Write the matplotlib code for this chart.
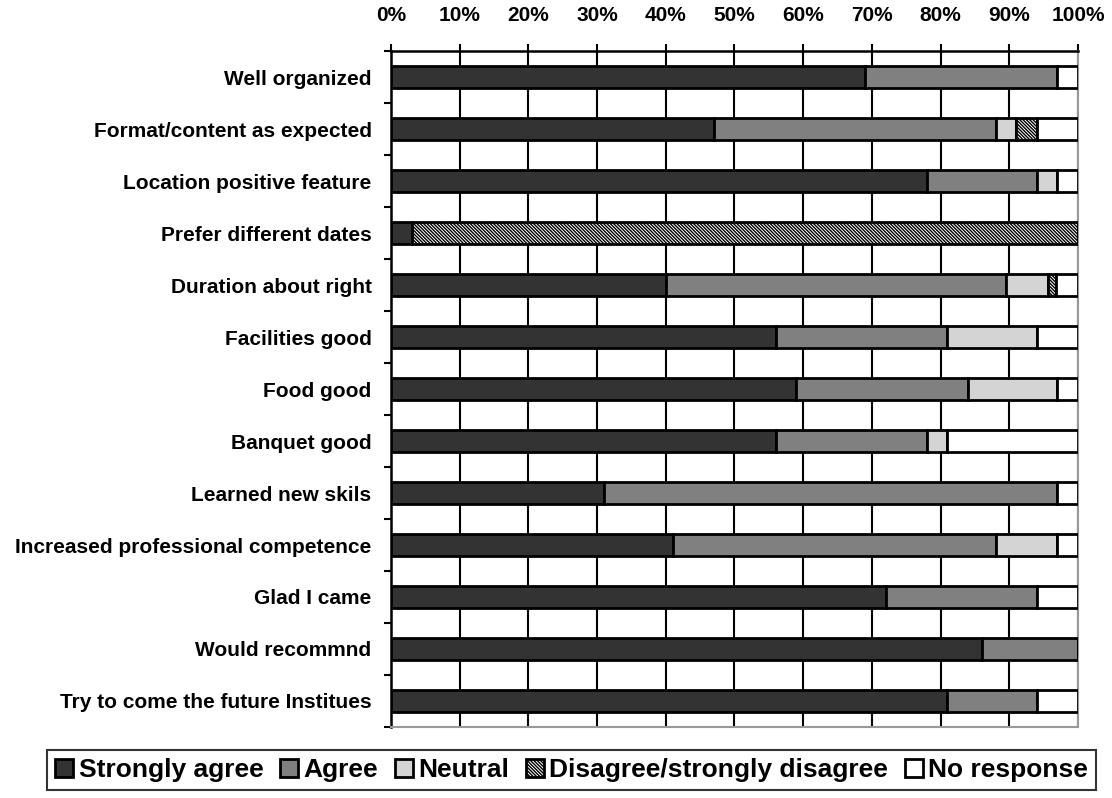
import matplotlib.pyplot as plt
import numpy as np

plt.rcParams['font.family'] = ['Liberation Sans', 'DejaVu Sans']
plt.rcParams['font.weight'] = 'bold'
plt.rcParams['hatch.linewidth'] = 1.0

categories = [
	"Well organized",
	"Format/content as expected",
	"Location positive feature",
	"Prefer different dates",
	"Duration about right",
	"Facilities good",
	"Food good",
	"Banquet good",
	"Learned new skils",
	"Increased professional competence",
	"Glad I came",
	"Would recommnd",
	"Try to come the future Institues",
]

strongly_agree = [69, 47, 78, 3, 40, 56, 59, 56, 31, 41, 72, 86, 81]
agree = [28, 41, 16, 0, 49.5, 25, 25, 22, 66, 47, 22, 14, 13]
neutral = [0, 3, 3, 0, 6.2, 13, 13, 3, 0, 9, 0, 0, 0]
disagree = [0, 3, 0, 97, 1.1, 0, 0, 0, 0, 0, 0, 0, 0]
no_response = [3, 6, 3, 0, 3.2, 6, 3, 19, 3, 3, 6, 0, 6]

series = [
	("Strongly agree", strongly_agree, "#333333", None),
	("Agree", agree, "#808080", None),
	("Neutral", neutral, "#d4d4d4", None),
	("Disagree/strongly disagree", disagree, "#ffffff", "\\" * 10),
	("No response", no_response, "#ffffff", None),
]

fig = plt.figure(figsize=(11.12, 7.98), dpi=100)
ax = fig.add_axes([0.3516, 0.089, 0.6178, 0.847])

y = np.arange(len(categories))
left = np.zeros(len(categories))
for name, vals, color, hatch in series:
	vals = np.array(vals, dtype=float)
	ax.barh(y, vals, left=left, height=0.42, color=color, edgecolor="black",
		linewidth=2, hatch=hatch, label=name, zorder=3)
	left += vals

ax.set_xlim(0, 100)
ax.set_ylim(len(categories) - 0.5, -0.5)

ax.set_xticks(np.arange(0, 101, 10))
ax.set_xticklabels([f"{v}%" for v in range(0, 101, 10)], fontsize=15, fontweight="bold")
ax.xaxis.tick_top()
ax.tick_params(axis="x", which="major", direction="out", length=5, width=1.5, pad=14)
ax.xaxis.grid(True, color="black", linewidth=1.5, zorder=0)
ax.set_axisbelow(True)

ax.set_yticks(y)
ax.set_yticklabels(categories, fontsize=15, fontweight="bold")
ax.set_yticks(np.arange(-0.5, len(categories), 1), minor=True)
ax.tick_params(axis="y", which="major", length=0, pad=14)
ax.tick_params(axis="y", which="minor", direction="out", length=5, width=1.5)

ax.spines["left"].set_linewidth(1.8)
ax.spines["top"].set_linewidth(1.8)
ax.spines["right"].set_color("#999999")
ax.spines["bottom"].set_color("#999999")
ax.spines["right"].set_linewidth(1.5)
ax.spines["bottom"].set_linewidth(1.5)

leg = fig.legend(loc="lower center", bbox_to_anchor=(0.514, 0.01), ncol=5,
	prop={"size": 19, "weight": "bold"}, frameon=True, fancybox=False,
	handlelength=0.7, handleheight=0.7, handletextpad=0.2,
	columnspacing=0.62, borderpad=0.3, borderaxespad=0)
leg.get_frame().set_edgecolor("black")
leg.get_frame().set_linewidth(1.5)

plt.savefig("out.png", dpi=100)
